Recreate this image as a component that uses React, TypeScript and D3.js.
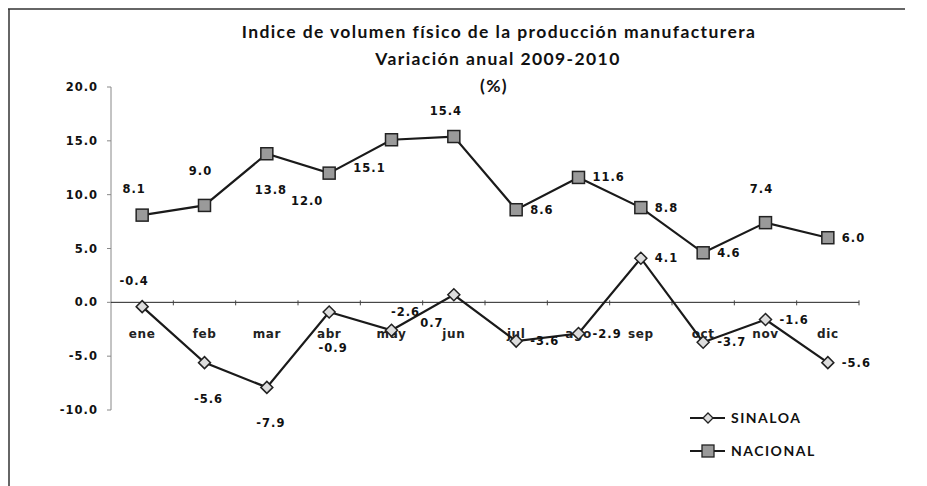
import * as d3 from "d3";
import React from "react";

const months = ["ene", "feb", "mar", "abr", "may", "jun", "jul", "ago", "sep", "oct", "nov", "dic"];
const sinaloa = [-0.4, -5.6, -7.9, -0.9, -2.6, 0.7, -3.6, -2.9, 4.1, -3.7, -1.6, -5.6];
const nacional = [8.1, 9.0, 13.8, 12.0, 15.1, 15.4, 8.6, 11.6, 8.8, 4.6, 7.4, 6.0];
const yTicks = [-10, -5, 0, 5, 10, 15, 20];

// where Excel put each data label (t = top, b = bottom, r = right, l = left)
const nacPos = ["tl", "t", "b", "bl", "bl", "tl", "r", "r", "r", "r", "t", "r"];
const sinPos = ["tl", "b", "b", "b", "tr", "bl", "r", "r", "r", "r", "r", "r"];

const W = 927;
const H = 486;
const left = 111;
const right = 859;

const labelOffset = (p: string): [number, number, string] => {
  switch (p) {
    case "t": return [-4, -30, "middle"];
    case "tl": return [-8, -22, "middle"];
    case "tr": return [14, -14, "middle"];
    case "b": return [4, 40, "middle"];
    case "bl": return [-22, 32, "middle"];
    case "l": return [-12, 4, "end"];
    default: return [14, 4, "start"];
  }
};

// Excel uses a plain hyphen, not d3's unicode minus
const fmt = (v: number) => v.toFixed(1);

const App = () => {
  const x = d3.scaleBand().domain(months).range([left, right]);
  const y = d3.scaleLinear().domain([-10, 20]).range([410, 87]);
  const cx = (m: string) => (x(m) ?? 0) + x.bandwidth() / 2;

  const line = d3
    .line<number>()
    .x((_, i) => cx(months[i]))
    .y((d) => y(d));

  const numFont = { fontFamily: "DejaVu Sans", fontWeight: 700, fontSize: 11.5, letterSpacing: 1 };

  return (
    <svg width={W} height={H} style={{ position: "absolute", left: 0, top: 0 }}>
      <rect width={W} height={H} fill="#fff" />
      <line x1={8} x2={905} y1={9} y2={9} stroke="#333" strokeWidth={1.5} />
      <line x1={9} x2={9} y1={9} y2={486} stroke="#333" strokeWidth={1.5} />

      <g fontFamily="Lato" fontWeight={700} fontSize={17.5} letterSpacing={1.4} textAnchor="middle" fill="#111">
        <text x={499} y={38}>Indice de volumen físico de la producción manufacturera</text>
        <text x={498} y={65}>Variación anual  2009-2010</text>
        <text x={494} y={92}>(%)</text>
      </g>

      {/* y axis */}
      <line x1={left} x2={left} y1={y(20)} y2={y(-10)} stroke="#888" strokeWidth={1} />
      {yTicks.map((t) => (
        <g key={t}>
          <line x1={left - 4} x2={left} y1={y(t)} y2={y(t)} stroke="#888" />
          <text x={98} y={y(t) + 4} textAnchor="end" fill="#111" {...numFont}>
            {fmt(t)}
          </text>
        </g>
      ))}

      {/* zero line with category ticks */}
      <line x1={left} x2={right} y1={y(0)} y2={y(0)} stroke="#222" strokeWidth={1} />
      {months.map((m, i) => (
        <line key={m} x1={left + (i + 1) * x.bandwidth()} x2={left + (i + 1) * x.bandwidth()}
          y1={y(0) - 2} y2={y(0) + 3} stroke="#444" />
      ))}
      {months.map((m) => (
        <text key={m} x={cx(m)} y={y(0) + 36} textAnchor="middle" fontFamily="DejaVu Sans"
          fontWeight={700} fontSize={12} letterSpacing={0.6} fill="#222">
          {m}
        </text>
      ))}

      {/* series */}
      <path d={line(nacional) ?? ""} fill="none" stroke="#1a1a1a" strokeWidth={2.2} />
      <path d={line(sinaloa) ?? ""} fill="none" stroke="#1a1a1a" strokeWidth={2.2} />

      {nacional.map((v, i) => (
        <rect key={i} x={cx(months[i]) - 6} y={y(v) - 6} width={12} height={12}
          fill="#9a9a9a" stroke="#222" strokeWidth={1.5} />
      ))}
      {sinaloa.map((v, i) => (
        <path key={i} transform={`translate(${cx(months[i])},${y(v)})`}
          d="M0,-6L6,0L0,6L-6,0Z" fill="#ddd" stroke="#222" strokeWidth={1.5} />
      ))}

      {nacional.map((v, i) => {
        const [dx, dy, anchor] = labelOffset(nacPos[i]);
        return (
          <text key={i} x={cx(months[i]) + dx} y={y(v) + dy} textAnchor={anchor} fill="#111" {...numFont}>
            {fmt(v)}
          </text>
        );
      })}
      {sinaloa.map((v, i) => {
        const [dx, dy, anchor] = labelOffset(sinPos[i]);
        return (
          <text key={i} x={cx(months[i]) + dx} y={y(v) + dy} textAnchor={anchor} fill="#111" {...numFont}>
            {fmt(v)}
          </text>
        );
      })}

      {/* legend */}
      <g>
        <line x1={690} x2={725} y1={418} y2={418} stroke="#1a1a1a" strokeWidth={2.2} />
        <path transform="translate(708,418)" d="M0,-5L5,0L0,5L-5,0Z" fill="#ddd" stroke="#222" strokeWidth={1.3} />
        <text x={731} y={423} fontFamily="Lato" fontWeight={700} fontSize={14} letterSpacing={1.5} fill="#111">SINALOA</text>
        <line x1={690} x2={725} y1={451} y2={451} stroke="#1a1a1a" strokeWidth={2.2} />
        <rect x={702} y={445} width={12} height={12} fill="#9a9a9a" stroke="#222" strokeWidth={1.3} />
        <text x={731} y={456} fontFamily="Lato" fontWeight={700} fontSize={14} letterSpacing={1.5} fill="#111">NACIONAL</text>
      </g>
    </svg>
  );
};

export default App;
